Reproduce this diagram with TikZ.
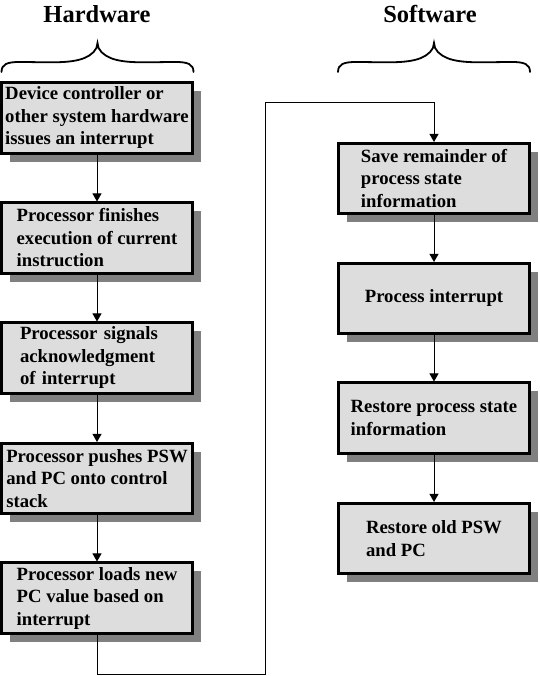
\documentclass[tikz,border=0pt]{standalone}
\usepackage{fontspec}
\setmainfont{Liberation Serif}
\usetikzlibrary{shadows,arrows.meta}
\definecolor{boxfill}{HTML}{DDDDDD}
\definecolor{shadowgray}{HTML}{808080}
\begin{document}
\begin{tikzpicture}[x=1pt,y=-1pt,
  stepbox/.style={draw=black, line width=2.6pt, fill=boxfill,
    minimum width=191pt, minimum height=70.5pt, align=left, inner sep=0pt,
    font=\fontsize{18.7}{22.5}\selectfont\bfseries,
    drop shadow={shadow xshift=8.5pt, shadow yshift=-8.5pt, fill=shadowgray, opacity=1}},
  flow/.style={line width=0.9pt, -{Triangle[length=8pt,width=9pt]}},
  bracepath/.style={line width=1.8pt, line cap=round},
  heading/.style={font=\fontsize{24.5}{28}\selectfont\bfseries}]
\useasboundingbox (0,0) rectangle (539,676);

% headings
\node[heading, anchor=base] (hw) at (97,22.5) {Hardware};
\node[heading, anchor=base] (sw) at (430,22.5) {Software};

% braces
\foreach \cx in {97.5,434}{
  \begin{scope}[xshift=\cx pt]
  \draw[bracepath] (-96,72) .. controls (-96,64) and (-90,62) .. (-78,62)
    .. controls (-50,62) and (-28,64) .. (-13,58)
    .. controls (-6,55) and (0,50) .. (0,43)
    .. controls (0,50) and (6,55) .. (13,58)
    .. controls (28,64) and (50,62) .. (78,62)
    .. controls (90,62) and (96,64) .. (96,72);
  \end{scope}
}

% hardware boxes
\node[stepbox] (b1) at (97,118) {Device controller or\\other system hardware\\issues an interrupt};
\node[stepbox] (b2) at (97,238) {Processor finishes\\execution of current\\instruction};
\node[stepbox, text width=154pt] (b3) at (97,358) {Processor signals\\acknowledgment\\of interrupt};
\node[stepbox] (b4) at (97,478.5) {Processor pushes PSW\\and PC onto control\\stack};
\node[stepbox] (b5) at (97,598) {Processor loads new\\PC value based on\\interrupt};

% software boxes
\node[stepbox] (r1) at (434,178.5) {Save remainder of\\process state\\information};
\node[stepbox] (r2) at (434,298.5) {Process interrupt};
\node[stepbox] (r3) at (434,418) {Restore process state\\information};
\node[stepbox] (r4) at (434,538.5) {Restore old PSW\\and PC};

% connectors
\draw[flow] (b1) -- (b2);
\draw[flow] (b2) -- (b3);
\draw[flow] (b3) -- (b4);
\draw[flow] (b4) -- (b5);
\draw[flow] (r1) -- (r2);
\draw[flow] (r2) -- (r3);
\draw[flow] (r3) -- (r4);

\coordinate (ca) at (265,674);
\coordinate (cb) at (265,102);
\draw[flow] (b5.south) |- (ca) -- (cb) -| (r1.north);
\end{tikzpicture}
\end{document}
